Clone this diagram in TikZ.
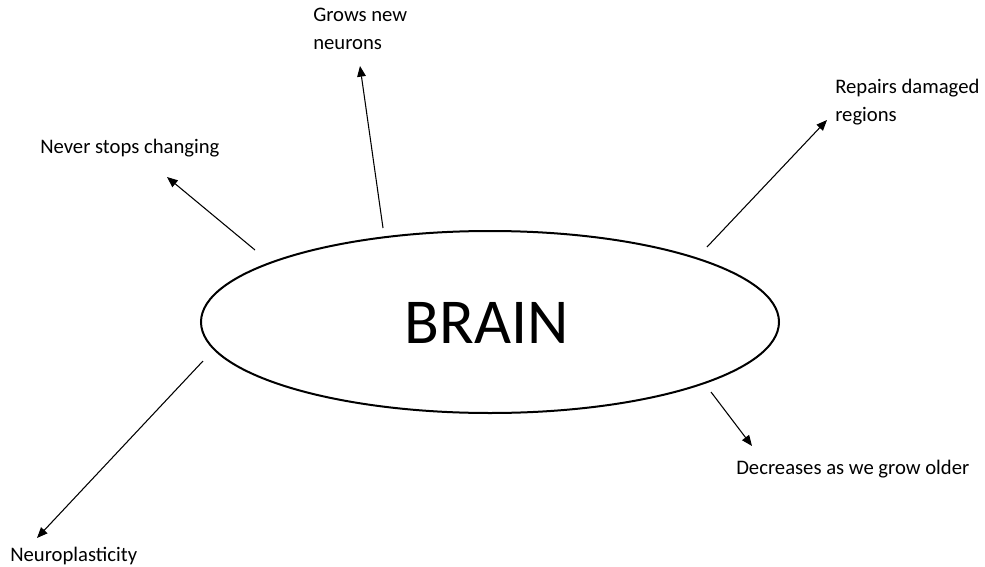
\documentclass[tikz,border=0pt]{standalone}
\usepackage{fontspec}
\setmainfont{Carlito}
\usetikzlibrary{arrows.meta}
\begin{document}
\begin{tikzpicture}[x=0.75pt,y=-0.75pt,
  label/.style={font=\fontsize{15.5pt}{21pt}\selectfont, inner sep=0pt, anchor=base west, align=left},
  link/.style={line width=0.8pt, -{Triangle[length=8pt,width=6.5pt]}}]
\useasboundingbox (0,0) rectangle (985,567);

% central ellipse
\draw[line width=1.5pt] (490,322) ellipse [x radius=289, y radius=91];
\node[font=\fontsize{48pt}{56pt}\selectfont, inner sep=0pt, anchor=base] (brain) at (487,343) {BRAIN};

% labels around the ellipse (base = baseline of the last line)
\node[label] (never)  at (40,153)  {Never stops changing};
\node[label] (grows)  at (313,50)  {Grows new\\neurons};
\node[label] (repair) at (835,122) {Repairs damaged\\regions};
\node[label] (decr)   at (736,474) {Decreases as we grow older};
\node[label] (neuro)  at (10,561)  {Neuroplasticity};

% arrow ends
\coordinate (s1) at (255,250); \coordinate (t1) at (167,177);
\coordinate (s2) at (383,228); \coordinate (t2) at (360,66);
\coordinate (s3) at (707,247); \coordinate (t3) at (827,120);
\coordinate (s4) at (711,392); \coordinate (t4) at (752,446);
\coordinate (s5) at (203,361); \coordinate (t5) at (37,538);

\draw[link] (s1) -- (t1);
\draw[link] (s2) -- (t2);
\draw[link] (s3) -- (t3);
\draw[link] (s4) -- (t4);
\draw[link] (s5) -- (t5);
\end{tikzpicture}
\end{document}
